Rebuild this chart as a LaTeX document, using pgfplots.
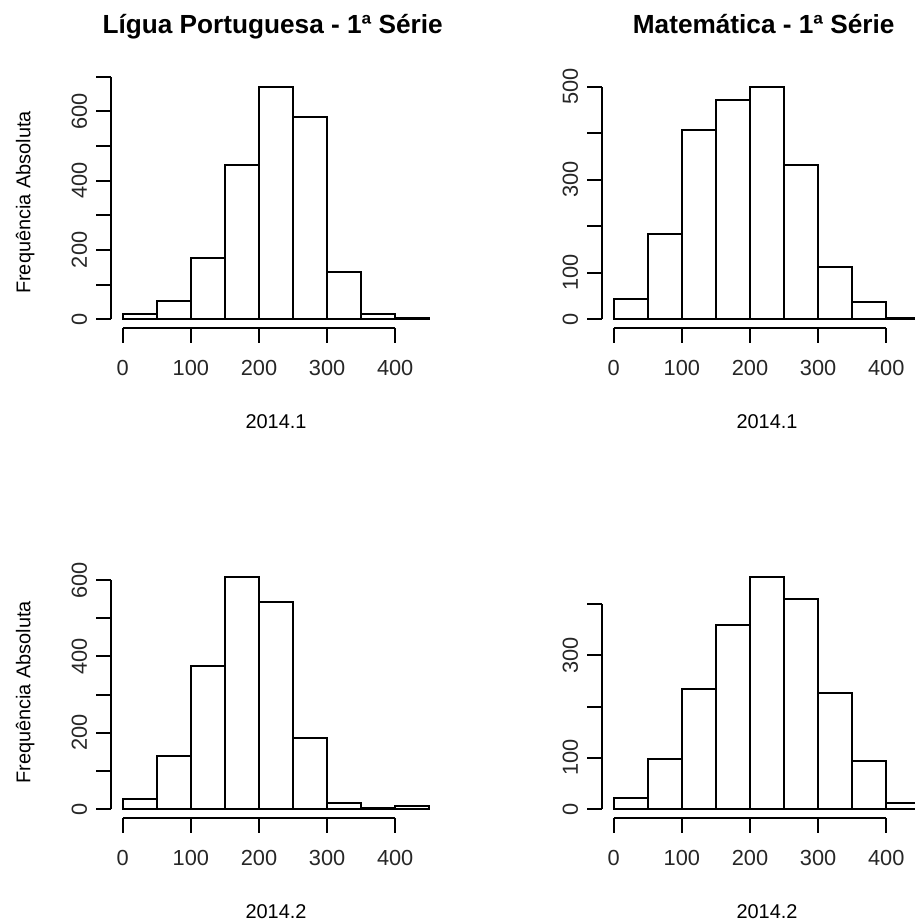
\documentclass[border=0pt]{standalone}
\usepackage{fontspec}
\setmainfont{Liberation Sans}
\usepackage{pgfplots}
\pgfplotsset{compat=1.18}
\pgfplotsset{
  rhist/.style={
    scale only axis, width=165.5bp, height=126bp,
    xmin=-18, xmax=468, clip=false,
    axis lines*=left, axis line style={draw=none},
    tick align=outside, major tick length=7.15bp,
    tick style={black, line width=1bp},
    xtick={0,100,200,300,400},
    xticklabels={0,100,200,300,400},
    /pgf/number format/assume math mode=true,
    tick label style={font=\fontsize{10.9bp}{12bp}\selectfont, text=black!85},
    xticklabel style={anchor=base, yshift=-16.6bp},
    yticklabel style={rotate=90, anchor=south, inner sep=0pt, yshift=4.3bp},
    label style={font=\fontsize{11bp}{12bp}\selectfont, text=black!85},
    every axis x label/.style={at={(rel axis cs:0.5,-0.396)}, anchor=base},
    every axis y label/.style={at={(rel axis cs:-0.2417,0.5)}, rotate=90, anchor=base},
    every axis title/.style={at={(rel axis cs:0.49,1.171)}, anchor=base, font=\fontsize{13.1bp}{15bp}\selectfont\bfseries},
  },
  hbar/.style={ybar interval, fill=white, draw=black, line width=1bp},
}
\begin{document}
\begin{tikzpicture}
\path[use as bounding box] (0,0) rectangle (457.5bp,461.5bp);
\clip (0,0) rectangle (457.5bp,461.5bp);
% Top left
\begin{axis}[rhist, at={(55.25bp,297.25bp)}, anchor=south west,
  ymin=-26.9, ymax=700,
  ytick={0,100,...,700}, yticklabels={0,,200,,400,,600,},
  title={Lígua Portuguesa - 1ª Série},
  xlabel={2014.1}, ylabel={Frequência Absoluta}]
\addplot[hbar] coordinates {(0,15) (50,53) (100,176) (150,445) (200,671) (250,583) (300,137) (350,15) (400,4) (450,4)};
\draw[line width=1bp] (axis cs:-18,0) -- (axis cs:-18,700);
\draw[line width=1bp] (axis cs:0,-26.9) -- (axis cs:400,-26.9);
\end{axis}
% Top right
\begin{axis}[rhist, at={(300.75bp,297.25bp)}, anchor=south west,
  ymin=-20.08, ymax=522.08,
  ytick={0,100,...,500}, yticklabels={0,100,,300,,500},
  title={Matemática - 1ª Série},
  xlabel={2014.1}]
\addplot[hbar] coordinates {(0,43) (50,183) (100,408) (150,471) (200,500) (250,332) (300,113) (350,36) (400,3) (450,3)};
\draw[line width=1bp] (axis cs:-18,0) -- (axis cs:-18,500);
\draw[line width=1bp] (axis cs:0,-20.08) -- (axis cs:400,-20.08);
\end{axis}
% Bottom left
\begin{axis}[rhist, at={(55.25bp,52.35bp)}, anchor=south west,
  ymin=-24.48, ymax=636.48,
  ytick={0,100,...,600}, yticklabels={0,,200,,400,,600},
  xlabel={2014.2}, ylabel={Frequência Absoluta}]
\addplot[hbar] coordinates {(0,25) (50,140) (100,376) (150,609) (200,543) (250,186) (300,16) (350,3) (400,7) (450,7)};
\draw[line width=1bp] (axis cs:-18,0) -- (axis cs:-18,600);
\draw[line width=1bp] (axis cs:0,-24.48) -- (axis cs:400,-24.48);
\end{axis}
% Bottom right
\begin{axis}[rhist, at={(300.75bp,52.35bp)}, anchor=south west,
  ymin=-18.24, ymax=474.24,
  ytick={0,100,...,400}, yticklabels={0,100,,300,},
  xlabel={2014.2}]
\addplot[hbar] coordinates {(0,21) (50,98) (100,235) (150,360) (200,453) (250,411) (300,226) (350,94) (400,12) (450,12)};
\draw[line width=1bp] (axis cs:-18,0) -- (axis cs:-18,400);
\draw[line width=1bp] (axis cs:0,-18.24) -- (axis cs:400,-18.24);
\end{axis}
\end{tikzpicture}
\end{document}
